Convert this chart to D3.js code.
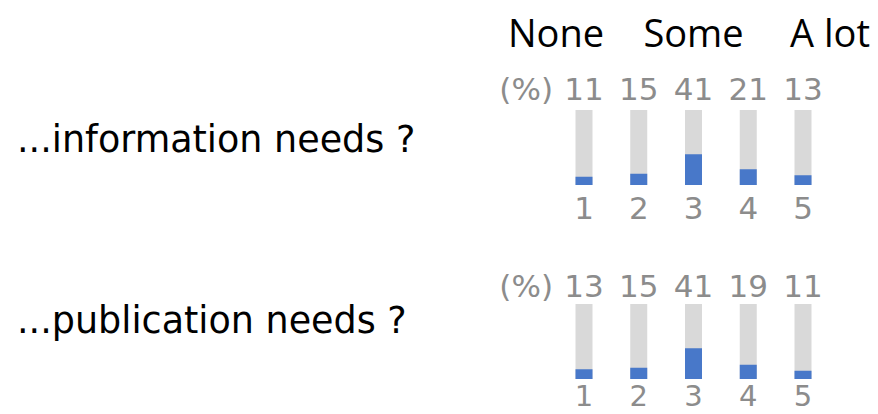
<!DOCTYPE html>
<html><head><meta charset="utf-8">
<script src="https://cdn.jsdelivr.net/npm/d3@7"></script>
<style>
html,body{margin:0;padding:0;background:#fff;}
svg{display:block;}
</style></head>
<body>
<svg id="chart" width="878" height="414"></svg>
<script>
// ---- data ----
const categories = [1, 2, 3, 4, 5];
const questions = ["...information needs ?", "...publication needs ?"];
const informationValues = [11, 15, 41, 21, 13];
const publicationValues = [13, 15, 41, 19, 11];
const headerLabels = ["None", "Some", "A lot"];
const unitLabel = "(%)";

const series = [informationValues, publicationValues];

const svg = d3.select("#chart");

const x = d3.scalePoint().domain(categories).range([584, 803]);
const barW = 17;
const barH = 75;
const y = d3.scaleLinear().domain([0, 100]).range([barH, 0]);

const grayText = "#8c8c8c";
const labelFont = "'DejaVu Sans', sans-serif";
const numFont = "'DejaVu Sans', sans-serif";

// header
const hdr = svg.append("g").attr("font-family", "'Open Sans', sans-serif").attr("font-size", 38).attr("fill", "#000");
hdr.append("text").attr("x", 508).attr("y", 47).attr("text-anchor", "start").text(headerLabels[0]);
hdr.append("text").attr("x", x(3)).attr("y", 47).attr("text-anchor", "middle").text(headerLabels[1]);
hdr.append("text").attr("x", 870).attr("y", 47).attr("text-anchor", "end").text(headerLabels[2]);

// panel layout (vertical anchors)
const panels = [
  {labelY: 152, pctY: 100, barTop: 110, numY: 219, numSize: 31},
  {labelY: 333, pctY: 297, barTop: 304, numY: 406, numSize: 29}
];

panels.forEach((p, i) => {
  const vals = series[i];
  const g = svg.append("g");

  g.append("text")
    .attr("x", 17).attr("y", p.labelY)
    .attr("font-family", labelFont).attr("font-size", 36.5)
    .attr("fill", "#000")
    .text(questions[i]);

  g.append("text")
    .attr("x", 553).attr("y", p.pctY)
    .attr("text-anchor", "end")
    .attr("font-family", numFont).attr("font-size", 31)
    .attr("fill", grayText)
    .text(unitLabel);

  g.selectAll("text.pct").data(vals).join("text")
    .attr("class", "pct")
    .attr("x", (d, j) => x(categories[j]))
    .attr("y", p.pctY)
    .attr("text-anchor", "middle")
    .attr("font-family", numFont).attr("font-size", 31)
    .attr("fill", grayText)
    .text(d => d);

  const bars = g.append("g").attr("transform", `translate(0,${p.barTop})`);
  bars.selectAll("rect.bg").data(vals).join("rect")
    .attr("class", "bg")
    .attr("x", (d, j) => x(categories[j]) - barW / 2)
    .attr("y", y(100))
    .attr("width", barW)
    .attr("height", y(0) - y(100))
    .attr("fill", "#d9d9d9");
  bars.selectAll("rect.val").data(vals).join("rect")
    .attr("class", "val")
    .attr("x", (d, j) => x(categories[j]) - barW / 2)
    .attr("y", d => y(d))
    .attr("width", barW)
    .attr("height", d => y(0) - y(d))
    .attr("fill", "#4878c9");

  g.selectAll("text.cat").data(categories).join("text")
    .attr("class", "cat")
    .attr("x", d => x(d))
    .attr("y", p.numY)
    .attr("text-anchor", "middle")
    .attr("font-family", numFont).attr("font-size", p.numSize)
    .attr("fill", grayText)
    .text(d => d);
});
</script>
</body></html>
